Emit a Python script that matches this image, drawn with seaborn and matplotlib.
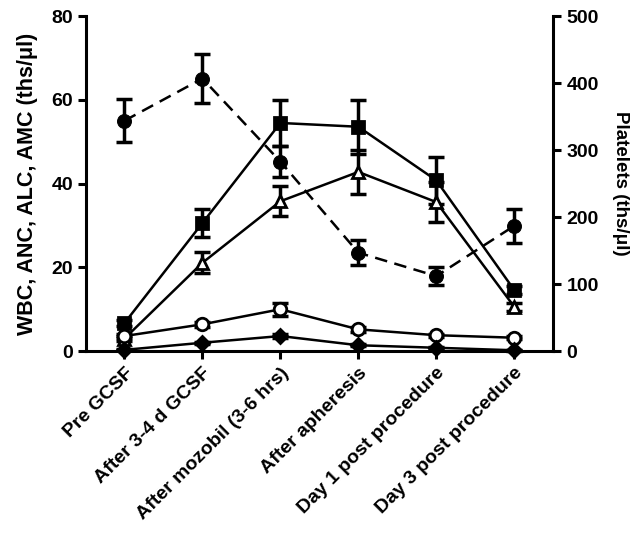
import numpy as np
import pandas as pd
import matplotlib.pyplot as plt
import seaborn as sns

# categories along the x axis
stages = ["Pre GCSF", "After 3-4 d GCSF", "After mozobil (3-6 hrs)",
          "After apheresis", "Day 1 post procedure", "Day 3 post procedure"]

# left axis series (ths/ul): mean and error
wbc = [6.7, 30.6, 54.5, 53.6, 40.8, 14.6]
wbc_err = [0.8, 3.3, 5.5, 6.4, 5.6, 1.0]
anc = [3.0, 21.1, 35.8, 42.8, 35.6, 10.6]
anc_err = [0.5, 2.5, 3.6, 5.2, 4.8, 1.0]
amc = [3.6, 6.4, 10.0, 5.2, 3.8, 3.2]
amc_err = [0.4, 0.6, 1.5, 0.6, 0.4, 0.3]
alc = [0.3, 2.0, 3.6, 1.4, 0.8, 0.2]
alc_err = [0.1, 0.2, 0.4, 0.2, 0.1, 0.1]

# right axis series (platelets, ths/ul)
plt_mean = [344, 407, 283, 147, 112, 187]
plt_err = [32, 37, 23, 19, 14, 25]

sns.set_style("ticks")
plt.rcParams["font.family"] = ["Liberation Sans", "DejaVu Sans"]
plt.rcParams["font.weight"] = "bold"
for key in ["text.color", "axes.labelcolor", "xtick.color", "ytick.color", "axes.edgecolor"]:
    plt.rcParams[key] = "black"

fig = plt.figure(figsize=(6.44, 5.41), dpi=100)
ax = fig.add_axes([0.134, 0.351, 0.725, 0.619])
ax2 = ax.twinx()

x = np.arange(len(stages))
lw = 1.8
left_series = [
    (wbc, wbc_err, "s", "black"),
    (anc, anc_err, "^", "white"),
    (amc, amc_err, "o", "white"),
    (alc, alc_err, "D", "black"),
]
for vals, errs, mk, fc in left_series:
    df = pd.DataFrame({"x": x, "y": vals})
    ms = 7 if mk == "D" else 9
    sns.lineplot(data=df, x="x", y="y", ax=ax, color="black", lw=lw,
                 marker=mk, markersize=ms, markerfacecolor=fc,
                 markeredgecolor="black", markeredgewidth=2,
                 clip_on=False, zorder=3)
    ax.errorbar(x, vals, yerr=errs, fmt="none", ecolor="black",
                elinewidth=2.5, capsize=6, capthick=2.5, clip_on=False, zorder=2)

pdf = pd.DataFrame({"x": x, "y": plt_mean})
sns.lineplot(data=pdf, x="x", y="y", ax=ax2, color="black", lw=lw,
             linestyle=(0, (5, 3)), marker="o", markersize=10,
             markerfacecolor="black", markeredgecolor="black", clip_on=False)
ax2.errorbar(x, plt_mean, yerr=plt_err, fmt="none", ecolor="black",
             elinewidth=2.5, capsize=6, capthick=2.5, clip_on=False)

ax.set_xlim(-0.49, 5.5)
ax.set_ylim(0, 80)
ax2.set_ylim(0, 500)
ax.set_yticks([0, 20, 40, 60, 80])
ax2.set_yticks([0, 100, 200, 300, 400, 500])
ax.set_xticks(x)
ax.set_xticklabels(stages, rotation=45, ha="right", rotation_mode="anchor",
                   fontsize=15, fontweight="bold")
ax.set_xlabel("")
ax.set_ylabel("WBC, ANC, ALC, AMC (ths/\u03bcl)", fontsize=15.5,
              fontweight="bold", labelpad=10)
ax2.set_xlabel("")
ax2.set_ylabel("Platelets (ths/\u03bcl)", fontsize=13.5, fontweight="bold",
               rotation=270, labelpad=22)

for a in (ax, ax2):
    a.spines["top"].set_visible(False)
    for s in a.spines.values():
        s.set_linewidth(2.2)
    a.tick_params(width=2.2, length=6, labelsize=14, direction="out")
    for lab in a.get_yticklabels():
        lab.set_fontweight("bold")
ax2.spines["left"].set_visible(False)
ax2.spines["bottom"].set_visible(False)
ax.spines["right"].set_visible(False)

fig.savefig("out.png", dpi=100)
